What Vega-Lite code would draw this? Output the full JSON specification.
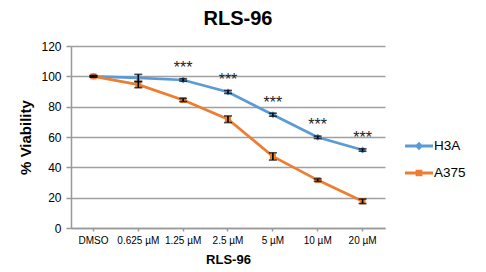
{
  "$schema": "https://vega.github.io/schema/vega-lite/v6.json",
  "width": 314,
  "height": 182,
  "autosize": {"type": "none"},
  "padding": {"left": 71, "top": 46, "right": 101, "bottom": 44},
  "background": "white",
  "config": {
    "font": "Liberation Sans",
    "view": {"stroke": null},
    "axis": {"labelFont": "Liberation Sans", "titleFont": "Liberation Sans", "labelColor": "#000", "titleColor": "#000"}
  },
  "title": {"text": "RLS-96", "fontSize": 20, "fontWeight": "bold", "font": "Liberation Sans", "color": "#000", "dx": 10, "frame": "group", "offset": 11},
  "data": {"values": [
    {"dose": "DMSO", "cell": "H3A", "v": 100, "err": 0.5, "sig": ""},
    {"dose": "0.625 µM", "cell": "H3A", "v": 99, "err": 2.3, "sig": ""},
    {"dose": "1.25 µM", "cell": "H3A", "v": 97.6, "err": 0.8, "sig": "***"},
    {"dose": "2.5 µM", "cell": "H3A", "v": 89.7, "err": 1, "sig": "***"},
    {"dose": "5 µM", "cell": "H3A", "v": 74.7, "err": 1, "sig": "***"},
    {"dose": "10 µM", "cell": "H3A", "v": 59.8, "err": 0.8, "sig": "***"},
    {"dose": "20 µM", "cell": "H3A", "v": 51.4, "err": 0.8, "sig": "***"},
    {"dose": "DMSO", "cell": "A375", "v": 100, "err": 0.5, "sig": ""},
    {"dose": "0.625 µM", "cell": "A375", "v": 94.5, "err": 2, "sig": ""},
    {"dose": "1.25 µM", "cell": "A375", "v": 84.4, "err": 1, "sig": ""},
    {"dose": "2.5 µM", "cell": "A375", "v": 71.7, "err": 2.2, "sig": ""},
    {"dose": "5 µM", "cell": "A375", "v": 47.2, "err": 2.4, "sig": ""},
    {"dose": "10 µM", "cell": "A375", "v": 31.6, "err": 0.8, "sig": ""},
    {"dose": "20 µM", "cell": "A375", "v": 17.6, "err": 1.5, "sig": ""}
  ]},
  "encoding": {
    "x": {"field": "dose", "type": "nominal", "sort": ["DMSO", "0.625 µM", "1.25 µM", "2.5 µM", "5 µM", "10 µM", "20 µM"],
      "scale": {"paddingInner": 0, "paddingOuter": 0},
      "axis": {"title": "RLS-96", "titleFontSize": 13, "titleFontWeight": "bold", "titlePadding": 8, "labelAngle": 0, "labelFontSize": 10, "labelPadding": 4, "tickSize": 3, "domainColor": "#999", "domainWidth": 1.5, "tickColor": "#999", "tickWidth": 1.5, "grid": false}},
    "y": {"field": "v", "type": "quantitative", "scale": {"domain": [0, 120]},
      "axis": {"title": "% Viability", "titleFontSize": 15, "titleFontWeight": "bold", "titlePadding": 7, "values": [0, 20, 40, 60, 80, 100, 120], "labelFontSize": 12, "labelPadding": 5, "tickSize": 5, "domainColor": "#999", "domainWidth": 1.5, "tickColor": "#999", "tickWidth": 1.5, "gridColor": "#a0a0a0", "gridWidth": 1.5}}
  },
  "layer": [
    {
      "mark": {"type": "line", "strokeWidth": 2.7},
      "encoding": {
        "color": {"field": "cell", "type": "nominal", "sort": ["H3A", "A375"], "scale": {"domain": ["H3A", "A375"], "range": ["#5b9bd5", "#ed7d31"]},
          "legend": {"title": null, "orient": "none", "legendX": 334, "legendY": 86, "padding": 0, "labelFontSize": 13.5, "labelColor": "#000", "labelFont": "Liberation Sans", "labelOffset": 1, "symbolSize": 784, "rowPadding": 6,
            "encode": {"symbols": {"update": {
              "shape": {"signal": "datum.value === 'H3A' ? 'M-1,-0.1H1V0.1H-1Z M0,-0.3L0.3,0L0,0.3L-0.3,0Z' : 'M-1,-0.1H1V0.1H-1Z M-0.24,-0.24H0.24V0.24H-0.24Z'"},
              "fill": {"scale": "color", "field": "value"},
              "stroke": {"value": "transparent"},
              "strokeWidth": {"value": 0},
              "opacity": {"value": 1}
            }}}}}
      }
    },
    {
      "transform": [{"filter": "datum.cell == 'H3A'"}],
      "mark": {"type": "point", "filled": true, "opacity": 1, "shape": "diamond", "color": "#5b9bd5", "size": 50}
    },
    {
      "transform": [{"filter": "datum.cell == 'A375'"}],
      "mark": {"type": "point", "filled": true, "opacity": 1, "shape": "square", "color": "#ed7d31", "size": 36}
    },
    {
      "mark": {"type": "errorbar", "ticks": {"size": 8, "thickness": 1.6, "color": "#000"}, "color": "#000", "thickness": 1.6},
      "encoding": {
        "y": {"field": "v", "type": "quantitative"},
        "yError": {"field": "err"}
      }
    },
    {
      "transform": [{"filter": "datum.sig != ''"}],
      "mark": {"type": "text", "fontSize": 16, "font": "Liberation Sans", "color": "#222", "baseline": "alphabetic", "dy": -7},
      "encoding": {"text": {"field": "sig"}}
    }
  ]
}
